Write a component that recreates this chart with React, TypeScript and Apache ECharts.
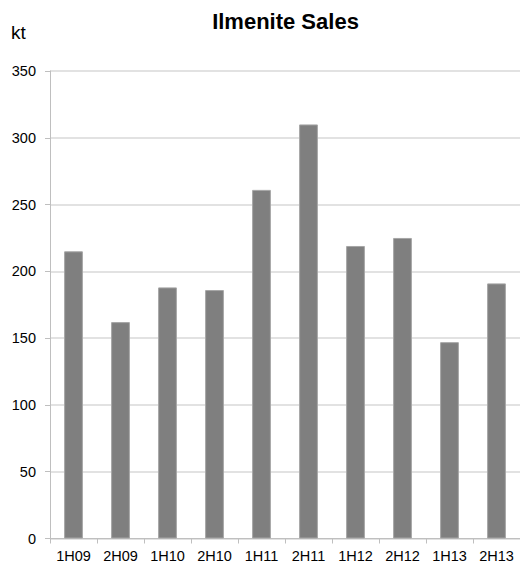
import React, { useEffect, useRef } from "react";
import * as echarts from "echarts";

const categories = ["1H09", "2H09", "1H10", "2H10", "1H11", "2H11", "1H12", "2H12", "1H13", "2H13"];
const sales = [215, 162, 188, 186, 261, 310, 219, 225, 147, 191];
const yTicks = { min: 0, max: 350, interval: 50 };
const titleText = "Ilmenite Sales";
const unitText = "kt";

export default function App() {
  const ref = useRef<HTMLDivElement>(null);
  useEffect(() => {
    document.body.style.margin = "0";
    const chart = echarts.init(ref.current!, undefined, { renderer: "svg" });
    const font = "'Liberation Sans', Arial, sans-serif";
    chart.setOption({
      animation: false,
      backgroundColor: "#ffffff",
      graphic: [
        {
          type: "text",
          x: 285.5,
          y: 21,
          style: {
            text: titleText,
            font: `bold 22px ${font}`,
            fill: "#000",
            textAlign: "center",
            textVerticalAlign: "middle",
          },
        },
        {
          type: "text",
          x: 11,
          y: 32,
          style: {
            text: unitText,
            font: `19px ${font}`,
            fill: "#000",
            textAlign: "left",
            textVerticalAlign: "middle",
          },
        },
      ],
      grid: { left: 50, top: 71, width: 475, height: 467.5 },
      xAxis: {
        type: "category",
        data: categories,
        axisLine: { show: true, lineStyle: { color: "#bfbfbf", width: 1 } },
        axisTick: { show: true, length: 5, alignWithLabel: false, lineStyle: { color: "#bfbfbf" } },
        axisLabel: { color: "#000", fontFamily: font, fontSize: 14.5, margin: 10 },
      },
      yAxis: {
        type: "value",
        min: yTicks.min,
        max: yTicks.max,
        interval: yTicks.interval,
        axisLine: { show: true, lineStyle: { color: "#bfbfbf", width: 1 } },
        axisTick: { show: true, length: 5, lineStyle: { color: "#bfbfbf" } },
        axisLabel: { color: "#000", fontFamily: font, fontSize: 14.5, margin: 14 },
        splitLine: { show: true, lineStyle: { color: "#d9d9d9", width: 1.5 } },
      },
      series: [
        {
          type: "bar",
          data: sales,
          barWidth: "40%",
          itemStyle: { color: "#7f7f7f", borderColor: "#a6a6a6", borderWidth: 1 },
        },
      ],
    });
    return () => chart.dispose();
  }, []);
  return <div ref={ref} style={{ width: 520, height: 568 }} />;
}
